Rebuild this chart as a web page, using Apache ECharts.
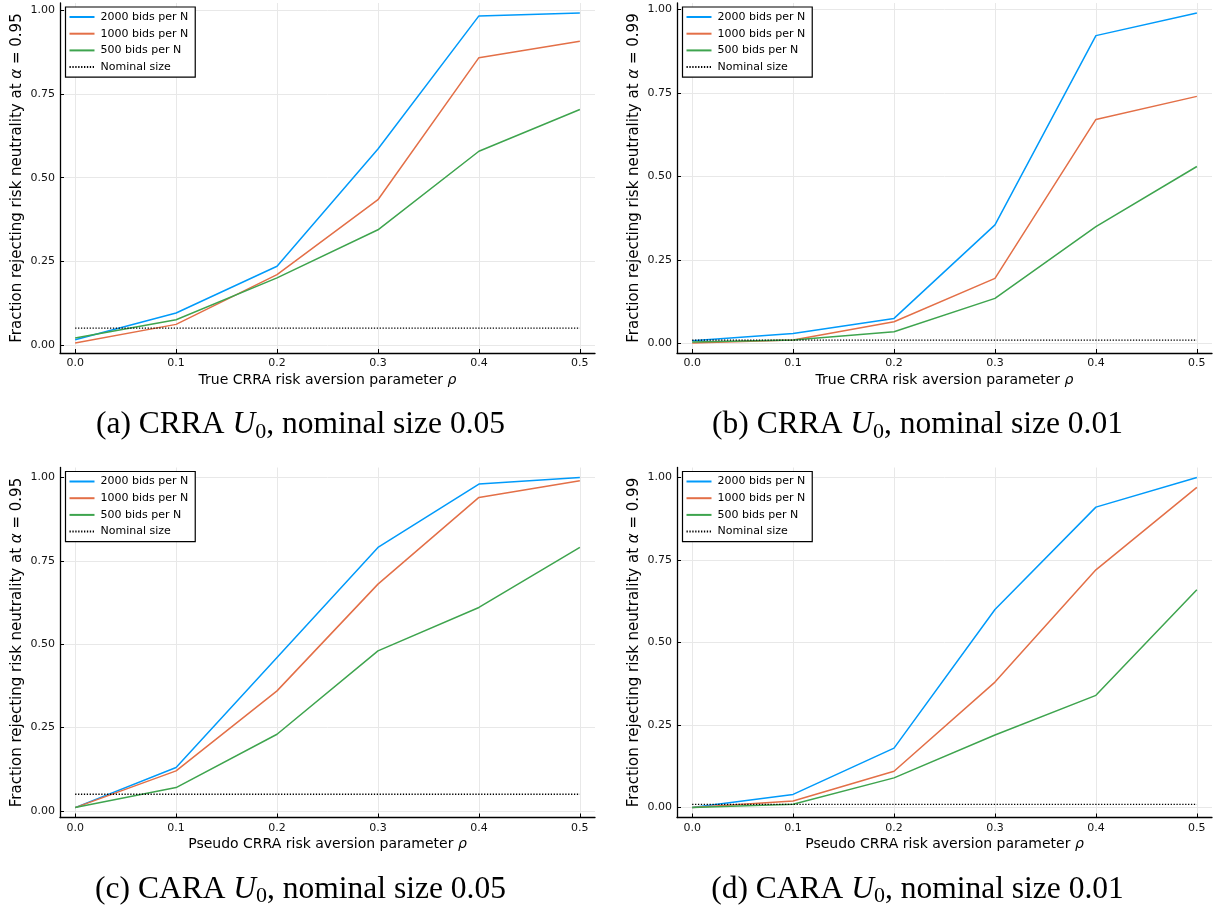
<!DOCTYPE html>
<html><head><meta charset="utf-8">
<script src="https://cdn.jsdelivr.net/npm/echarts@6/dist/echarts.min.js"></script>
<style>html,body{margin:0;padding:0;background:#fff}#c{width:1214px;height:910px}</style>
</head><body><div id="c"></div>
<script>
// ---- data ----
const rho = [0.0, 0.1, 0.2, 0.3, 0.4, 0.5];
const seriesNames = ['2000 bids per N', '1000 bids per N', '500 bids per N', 'Nominal size'];
const xTicks = [0.0, 0.1, 0.2, 0.3, 0.4, 0.5];
const yTicks = [0.0, 0.25, 0.5, 0.75, 1.0];

// (a) CRRA, nominal 0.05
const a2000 = [0.015, 0.095, 0.235, 0.586, 0.984, 0.993];
const a1000 = [0.005, 0.061, 0.210, 0.434, 0.859, 0.908];
const a500  = [0.020, 0.075, 0.200, 0.344, 0.579, 0.704];
const aNominal = 0.05;
// (b) CRRA, nominal 0.01
const b2000 = [0.008, 0.030, 0.075, 0.355, 0.922, 0.990];
const b1000 = [0.001, 0.010, 0.065, 0.195, 0.671, 0.740];
const b500  = [0.004, 0.010, 0.035, 0.135, 0.350, 0.530];
const bNominal = 0.01;
// (c) CARA, nominal 0.05
const c2000 = [0.010, 0.130, 0.460, 0.790, 0.980, 1.000];
const c1000 = [0.010, 0.120, 0.360, 0.680, 0.940, 0.990];
const c500  = [0.010, 0.070, 0.230, 0.480, 0.610, 0.790];
const cNominal = 0.05;
// (d) CARA, nominal 0.01
const d2000 = [0.000, 0.040, 0.180, 0.600, 0.910, 1.000];
const d1000 = [0.000, 0.020, 0.110, 0.380, 0.720, 0.970];
const d500  = [0.000, 0.010, 0.090, 0.220, 0.340, 0.660];
const dNominal = 0.01;

const xTitles = ['True CRRA risk aversion parameter ', 'True CRRA risk aversion parameter ',
                 'Pseudo CRRA risk aversion parameter ', 'Pseudo CRRA risk aversion parameter '];
const alphas = ['0.95', '0.99', '0.95', '0.99'];
const captions = [['(a)', 'CRRA', 'nominal size 0.05'], ['(b)', 'CRRA', 'nominal size 0.01'],
                  ['(c)', 'CARA', 'nominal size 0.05'], ['(d)', 'CARA', 'nominal size 0.01']];

// ---- layout ----
const panels = [
  {s: [a2000, a1000, a500], nom: aNominal, left: 60,  top: 3},
  {s: [b2000, b1000, b500], nom: bNominal, left: 677, top: 3},
  {s: [c2000, c1000, c500], nom: cNominal, left: 60,  top: 467.5},
  {s: [d2000, d1000, d500], nom: dNominal, left: 677, top: 467.5}
];
const colors = ['#009AFA', '#E36F47', '#3EA44E'];
const FONT = 'DejaVu Sans';
const W = 535, H = 350;

const grid = [], xAxis = [], yAxis = [], series = [], legend = [], title = [];
panels.forEach((p, k) => {
  grid.push({left: p.left, top: p.top, width: W, height: H});
  const all = p.s.flat().concat([p.nom]);
  const lo = Math.min(...all), hi = Math.max(...all), span = hi - lo;
  xAxis.push({
    type: 'value', gridIndex: k, min: -0.015, max: 0.515,
    axisLine: {show: true, onZero: false, lineStyle: {color: '#000', width: 1.3}},
    axisTick: {show: true, inside: true, length: 4, customValues: xTicks, lineStyle: {color: '#000', width: 1}},
    axisLabel: {customValues: xTicks, formatter: v => v.toFixed(1), color: '#111', fontFamily: FONT, fontSize: 11, margin: 5},
    splitLine: {show: true, lineStyle: {color: '#e8e8e8', width: 1}},
    name: '{n|' + xTitles[k] + '}{i|ρ}', nameLocation: 'middle', nameGap: 20,
    nameTextStyle: {rich: {n: {fontFamily: FONT, fontSize: 14, color: '#000'}, i: {fontFamily: FONT, fontSize: 14, fontStyle: 'italic', color: '#000'}}}
  });
  yAxis.push({
    type: 'value', gridIndex: k, min: lo - 0.03 * span, max: hi + 0.03 * span,
    axisLine: {show: true, onZero: false, lineStyle: {color: '#000', width: 1.3}},
    axisTick: {show: true, inside: true, length: 4, customValues: yTicks, lineStyle: {color: '#000', width: 1}},
    axisLabel: {customValues: yTicks, formatter: v => v.toFixed(2), color: '#111', fontFamily: FONT, fontSize: 11, margin: 5},
    splitLine: {show: true, lineStyle: {color: '#e8e8e8', width: 1}},
    name: '{n|Fraction rejecting risk neutrality at }{i|α}{n| = ' + alphas[k] + '}', nameLocation: 'middle', nameGap: 35, nameRotate: 90,
    nameTextStyle: {rich: {n: {fontFamily: FONT, fontSize: 15, color: '#000'}, i: {fontFamily: FONT, fontSize: 15, fontStyle: 'italic', color: '#000'}}}
  });
  p.s.forEach((arr, j) => {
    series.push({
      type: 'line', name: seriesNames[j], xAxisIndex: k, yAxisIndex: k,
      data: rho.map((x, i) => [x, arr[i]]), symbol: 'none', color: colors[j],
      lineStyle: {color: colors[j], width: 1.5}
    });
  });
  series.push({
    type: 'line', name: seriesNames[3], xAxisIndex: k, yAxisIndex: k,
    data: [[rho[0], p.nom], [rho[rho.length - 1], p.nom]], symbol: 'none', color: '#000',
    lineStyle: {color: '#000', width: 1.3, type: [1.3, 1.6]}
  });
  legend.push({
    orient: 'vertical', left: p.left + 5.5, top: p.top + 4, data: seriesNames,
    backgroundColor: '#fff', borderColor: '#000', borderWidth: 1.2, borderRadius: 0,
    padding: [4.5, 7, 4.5, 3], itemGap: 5.7, itemWidth: 25, itemHeight: 11,
    itemStyle: {color: 'rgba(0,0,0,0)', borderColor: 'rgba(0,0,0,0)', borderWidth: 0},
    textStyle: {fontFamily: FONT, fontSize: 11, color: '#000', padding: [0, 0, 0, 1]},
    selectedMode: false
  });
  const cx = p.left + W / 2 - 27;
  const cy = p.top + H + 72;
  const c = captions[k];
  title.push({
    left: cx, top: cy - 18, textAlign: 'center', padding: 0,
    text: '{r|' + c[0] + ' ' + c[1] + ' }{u|U}{s|0}{r|, ' + c[2] + '}',
    textStyle: {fontWeight: 'normal', rich: {
      r: {fontFamily: 'Liberation Serif', fontSize: 31.5, fontWeight: 'normal', color: '#000', lineHeight: 36},
      u: {fontFamily: 'Liberation Serif', fontSize: 31.5, fontWeight: 'normal', fontStyle: 'italic', color: '#000', lineHeight: 36},
      s: {fontFamily: 'Liberation Serif', fontSize: 22, fontWeight: 'normal', color: '#000', lineHeight: 17, verticalAlign: 'bottom'}
    }}
  });
});

const chart = echarts.init(document.getElementById('c'), null, {renderer: 'canvas'});
chart.setOption({animation: false, backgroundColor: '#fff', grid, xAxis, yAxis, series, legend, title});
</script></body></html>
